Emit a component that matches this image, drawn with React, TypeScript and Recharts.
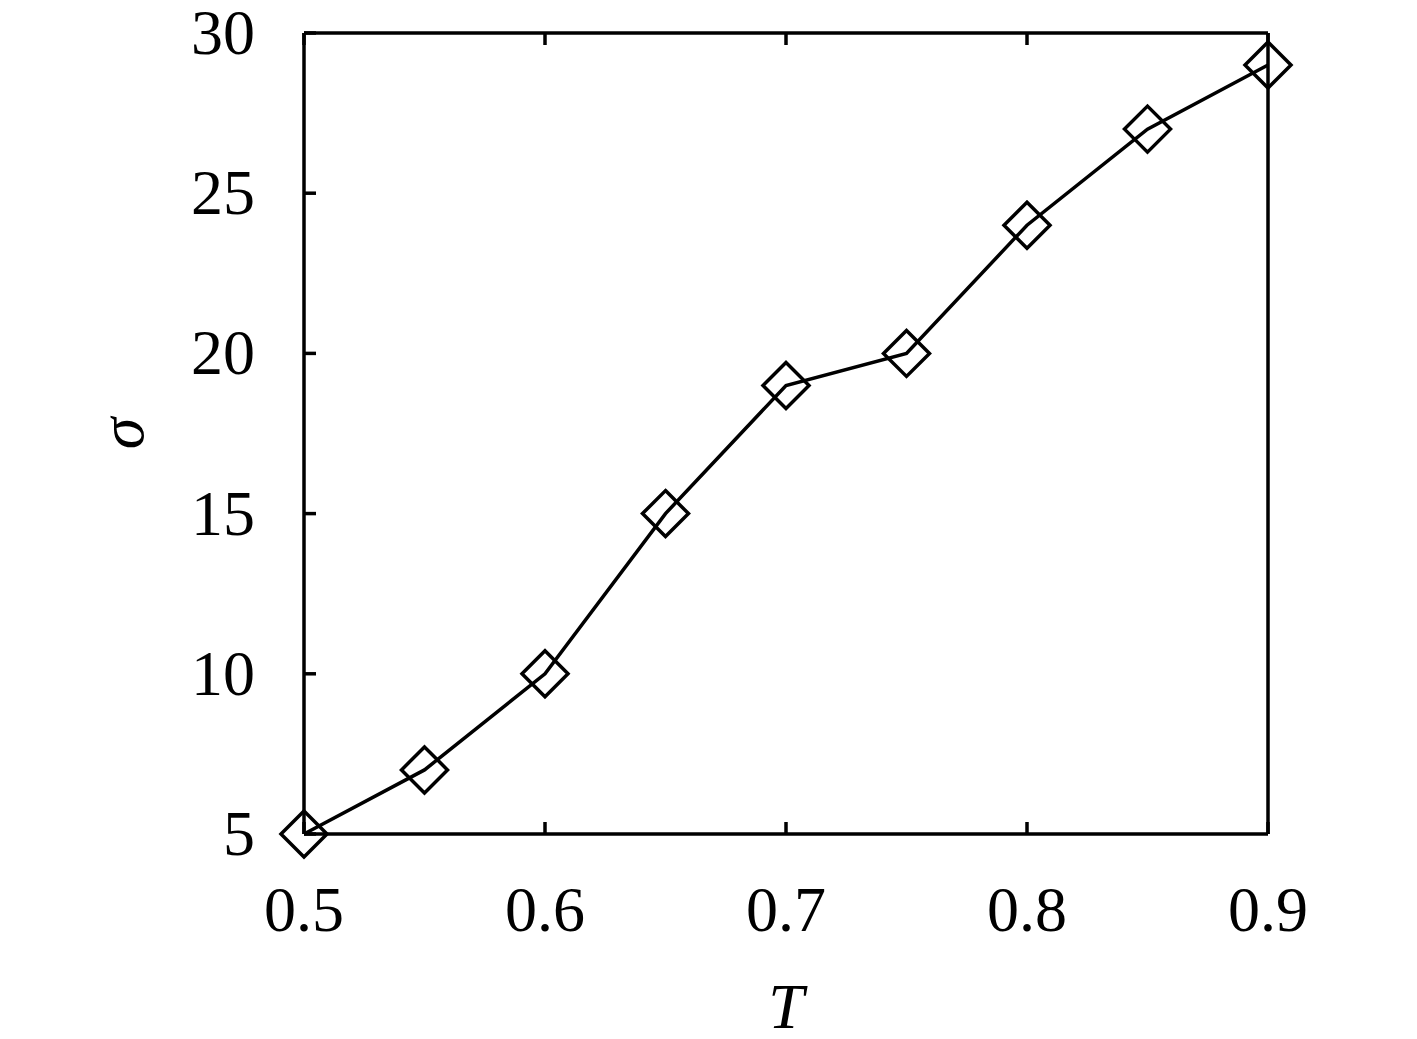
import React from 'react';
import { LineChart, Line, XAxis, YAxis, Label } from 'recharts';

const temperatures = [0.5, 0.55, 0.6, 0.65, 0.7, 0.75, 0.8, 0.85, 0.9];
const sigmaValues = [5, 7, 10, 15, 19, 20, 24, 27, 29];
const xTicks = [0.5, 0.6, 0.7, 0.8, 0.9];
const yTicks = [5, 10, 15, 20, 25, 30];

const data = temperatures.map((t, i) => ({ T: t, sigma: sigmaValues[i] }));

const FONT = '"Liberation Serif", "DejaVu Serif", serif';
const TICK = 12;
const SW = 3.5;

const BottomTick = (props: any) => {
  const { x, y, payload } = props;
  return (
    <g>
      <line x1={x} x2={x} y1={y} y2={y - TICK} stroke="#000" strokeWidth={SW} />
      <text x={x} y={y + 97} textAnchor="middle" fontSize={64} fontFamily={FONT} fill="#000">
        {Number(payload.value).toFixed(1)}
      </text>
    </g>
  );
};

const TopTick = (props: any) => {
  const { x, y } = props;
  return <line x1={x} x2={x} y1={y} y2={y + TICK} stroke="#000" strokeWidth={SW} />;
};

const LeftTick = (props: any) => {
  const { x, y, payload } = props;
  return (
    <g>
      <line x1={x} x2={x + TICK} y1={y} y2={y} stroke="#000" strokeWidth={SW} />
      <text x={x - 49} y={y + 21} textAnchor="end" fontSize={64} fontFamily={FONT} fill="#000">
        {payload.value}
      </text>
    </g>
  );
};

const RightTick = (props: any) => {
  const { x, y } = props;
  return <line x1={x} x2={x - TICK} y1={y} y2={y} stroke="#000" strokeWidth={SW} />;
};

const Diamond = (props: any) => {
  const { cx, cy, index } = props;
  if (cx == null || cy == null) return null;
  const r = 23;
  return (
    <path
      key={`d-${index}`}
      d={`M ${cx} ${cy - r} L ${cx + r} ${cy} L ${cx} ${cy + r} L ${cx - r} ${cy} Z`}
      fill="none"
      stroke="#000"
      strokeWidth={SW}
    />
  );
};

const axisLine = { stroke: '#000', strokeWidth: SW };

export default function App() {
  return (
    <div style={{ position: 'absolute', left: 0, top: 0, width: 1417, height: 1039, background: '#fff' }}>
      <LineChart
        width={1417}
        height={1039}
        data={data}
        margin={{ top: 32, right: 148, left: 204, bottom: 105 }}
      >
        <XAxis
          dataKey="T"
          type="number"
          domain={[0.5, 0.9]}
          ticks={xTicks}
          interval={0}
          tickSize={0}
          tickMargin={0}
          tickLine={false}
          axisLine={axisLine}
          tick={<BottomTick />}
          height={100}
        >
          <Label
            content={(p: any) => {
              const vb = p.viewBox || {};
              return (
                <text
                  x={vb.x + vb.width / 2}
                  y={vb.y + 194}
                  textAnchor="middle"
                  fontSize={64}
                  fontStyle="italic"
                  fontFamily={FONT}
                  fill="#000"
                >
                  T
                </text>
              );
            }}
          />
        </XAxis>
        <XAxis
          xAxisId="top"
          orientation="top"
          dataKey="T"
          type="number"
          domain={[0.5, 0.9]}
          ticks={xTicks}
          interval={0}
          tickSize={0}
          tickMargin={0}
          tickLine={false}
          axisLine={axisLine}
          tick={<TopTick />}
          height={1}
        />
        <YAxis
          type="number"
          domain={[5, 30]}
          ticks={yTicks}
          interval={0}
          tickSize={0}
          tickMargin={0}
          tickLine={false}
          axisLine={axisLine}
          tick={<LeftTick />}
          width={100}
        >
          <Label
            content={(p: any) => {
              const vb = p.viewBox || {};
              const lx = vb.x + vb.width - 161;
              const ly = vb.y + vb.height / 2;
              return (
                <text
                  x={lx}
                  y={ly}
                  textAnchor="middle"
                  fontSize={64}
                  fontStyle="italic"
                  fontFamily={FONT}
                  fill="#000"
                  transform={`rotate(-90, ${lx}, ${ly})`}
                >
                  σ
                </text>
              );
            }}
          />
        </YAxis>
        <YAxis
          yAxisId="right"
          orientation="right"
          type="number"
          domain={[5, 30]}
          ticks={yTicks}
          interval={0}
          tickSize={0}
          tickMargin={0}
          tickLine={false}
          axisLine={axisLine}
          tick={<RightTick />}
          width={1}
        />
        <Line
          type="linear"
          dataKey="sigma"
          stroke="#000"
          strokeWidth={SW}
          dot={<Diamond />}
          activeDot={false}
          isAnimationActive={false}
        />
      </LineChart>
    </div>
  );
}
